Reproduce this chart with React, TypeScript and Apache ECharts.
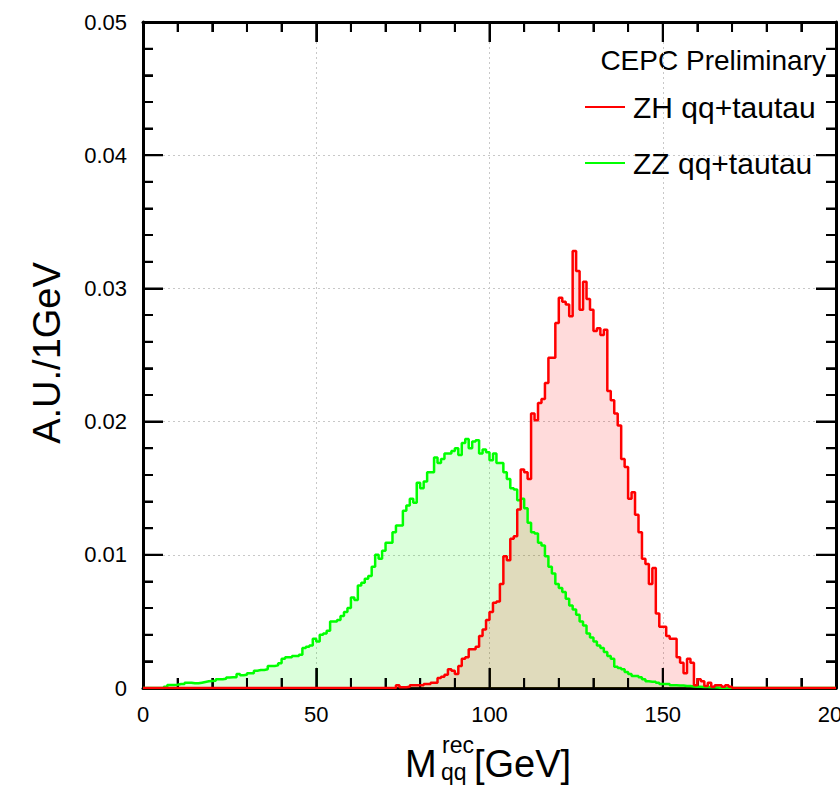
import React, { useEffect, useRef } from "react";
import * as echarts from "echarts";

// Bin lower edges are 0,1,2,...,199 GeV (1 GeV bins); values are A.U. per bin
const zzLabel = "ZZ qq+tautau";
const zhLabel = "ZH qq+tautau";

// ZZ qq+tautau (green), bins 0..199
const zzValues = [
  0, 0, 0, 0, 0, 0, 0.0001, 0.00023, 0.00023, 0.00025,
  0.0003, 0.0003, 0.0004, 0.0004, 0.00035, 0.00035, 0.0004, 0.00045, 0.0005, 0.00053,
  0.00055, 0.00065, 0.00065, 0.0007, 0.00078, 0.0008, 0.0008, 0.00105, 0.00095, 0.001,
  0.0011, 0.0011, 0.0013, 0.00135, 0.00135, 0.0014, 0.00165, 0.00165, 0.0017, 0.00185,
  0.0022, 0.0023, 0.0023, 0.0024, 0.0024, 0.0025, 0.003, 0.0031, 0.0032, 0.0037,
  0.0035, 0.004, 0.0041, 0.0043, 0.005, 0.005, 0.0051, 0.0054, 0.0057, 0.006,
  0.0068, 0.0066, 0.0077, 0.0079, 0.0082, 0.0084, 0.0091, 0.01, 0.0097, 0.0103,
  0.0109, 0.0109, 0.0117, 0.0122, 0.0122, 0.0133, 0.0137, 0.0142, 0.0139, 0.0154,
  0.015, 0.0155, 0.0162, 0.0162, 0.0173, 0.0169, 0.0172, 0.0176, 0.0176, 0.0178,
  0.018, 0.0175, 0.0184, 0.0187, 0.018, 0.0185, 0.0186, 0.0176, 0.0179, 0.0177,
  0.0171, 0.0176, 0.0169, 0.0169, 0.0162, 0.0157, 0.015, 0.0149, 0.0141, 0.0142,
  0.0135, 0.0124, 0.0117, 0.0116, 0.0109, 0.0107, 0.0099, 0.0091, 0.0086, 0.0078,
  0.0075, 0.0072, 0.0067, 0.0062, 0.0059, 0.0055, 0.005, 0.0047, 0.0041, 0.0038,
  0.0035, 0.0032, 0.003, 0.0027, 0.0024, 0.0022, 0.0016, 0.0015, 0.0014, 0.0012,
  0.00105, 0.0009, 0.0009, 0.0008, 0.00065, 0.0005, 0.00047, 0.00047, 0.0004, 0.0003,
  0.0003, 0.0003, 0.0002, 0.0002, 0.00018, 0.00018, 0.00015, 0.00015, 0.00012, 0.0001,
  0.0001, 0.00008, 0.00008, 0.00005, 0.00005, 0.00003, 0, 0, 0, 0,
  0, 0, 0, 0, 0, 0, 0, 0, 0, 0,
  0, 0, 0, 0, 0, 0, 0, 0, 0, 0,
  0, 0, 0, 0, 0, 0, 0, 0, 0, 0,
];

// ZH qq+tautau (red), bins 0..199
const zhValues = [
  0, 0, 0, 0, 0, 0, 0, 0, 0, 0,
  0, 0, 0, 0, 0, 0, 0, 0, 0, 0,
  0, 0, 0, 0, 0, 0, 0, 0, 0, 0,
  0, 0, 0, 0, 0, 0, 0, 0, 0, 0,
  0, 0, 0, 0, 0, 0, 0, 0, 0, 0,
  0, 0, 0, 0, 0, 0, 0, 0, 0, 0,
  0, 0, 0, 0, 0, 0, 0, 0, 0, 0,
  0, 0, 0, 0.0002, 0.00005, 0.00005, 0.0001, 0.0002, 0.0002, 0.0002,
  0.0002, 0.0003, 0.0003, 0.0004, 0.0004, 0.00075, 0.00085, 0.001, 0.0014, 0.0013,
  0.00105, 0.00165, 0.0022, 0.0023, 0.0029, 0.0029, 0.0031, 0.0039, 0.0044, 0.0051,
  0.0057, 0.0064, 0.0065, 0.0078, 0.0099, 0.0096, 0.0112, 0.0114, 0.0134, 0.0164,
  0.0162, 0.0157, 0.0206, 0.0201, 0.0214, 0.0217, 0.0229, 0.0248, 0.0248, 0.0274,
  0.0293, 0.029, 0.0288, 0.0279, 0.0328, 0.0313, 0.0284, 0.0305, 0.0292, 0.0284,
  0.0268, 0.027, 0.0265, 0.0269, 0.0223, 0.0216, 0.0206, 0.0197, 0.0172, 0.0166,
  0.0142, 0.0147, 0.013, 0.0117, 0.0097, 0.0093, 0.0078, 0.009, 0.0056, 0.0046,
  0.0046, 0.0039, 0.0037, 0.0037, 0.0023, 0.0019, 0.0011, 0.0022, 0.0019, 0.0002,
  0.00065, 0.0005, 0.00015, 0.0004, 0.0001, 0.0002, 0.0002, 0.0001, 0.0002, 0.0001,
  0, 0, 0, 0, 0, 0, 0, 0, 0, 0,
  0, 0, 0, 0, 0, 0, 0, 0, 0, 0,
  0, 0, 0, 0, 0, 0, 0, 0, 0, 0,
];

const xMin = 0;
const xMax = 200;
const xInterval = 50;
const xMinorStep = 10;
const yMin = 0;
const yMax = 0.05;
const yInterval = 0.01;
const yMinorCount = 25; // minor tick every 0.002

const FONT = "'Liberation Sans', Arial, Helvetica, sans-serif";

// layout (pixels)
const W = 840;
const H = 789;
const GRID = { left: 143, right: 4, top: 22, bottom: 101 };
const MAJOR_TICK_PX = 20;
const MINOR_TICK_PX = 10;

// histogram step points: [edge, value], closing at upper edge of last bin
function toSteps(values: number[]): [number, number][] {
  const pts: [number, number][] = values.map((v, i) => [i, v]);
  pts.push([values.length, values[values.length - 1]]);
  return pts;
}

// inward frame ticks on all four sides, as short segments separated by gaps
function buildTickPath(): (number | null)[][] {
  const plotW = W - GRID.left - GRID.right;
  const plotH = H - GRID.top - GRID.bottom;
  const dxPerPx = (xMax - xMin) / plotW;
  const dyPerPx = (yMax - yMin) / plotH;
  const pts: (number | null)[][] = [];
  for (let v = xMin; v <= xMax; v += xMinorStep) {
    const len = v % xInterval === 0 ? MAJOR_TICK_PX : MINOR_TICK_PX;
    pts.push([v, yMin], [v, yMin + len * dyPerPx], [v, null]);
    pts.push([v, yMax], [v, yMax - len * dyPerPx], [v, null]);
  }
  for (let k = 0; k <= yMinorCount; k++) {
    const w = (k * (yMax - yMin)) / yMinorCount;
    const len = k % 5 === 0 ? MAJOR_TICK_PX : MINOR_TICK_PX;
    pts.push([xMin, w], [xMin + len * dxPerPx, w], [xMin, null]);
    pts.push([xMax, w], [xMax - len * dxPerPx, w], [xMax, null]);
  }
  return pts;
}

function axisLine(onZeroAxisIndex: number) {
  return { show: true, onZero: true, onZeroAxisIndex, lineStyle: { color: "#000", width: 3 } };
}
function axisTick() {
  return { show: true, inside: true, length: MAJOR_TICK_PX, lineStyle: { color: "#000", width: 2 } };
}
function minorTick() {
  return { show: true, splitNumber: 5, length: MINOR_TICK_PX, lineStyle: { color: "#000", width: 2 } };
}

export default function App() {
  const ref = useRef<HTMLDivElement>(null);

  useEffect(() => {
    if (!ref.current) return;
    const chart = echarts.init(ref.current, undefined, { renderer: "svg" });

    const gridLine = { show: true, lineStyle: { color: "#c8c8c8", width: 1, type: [2, 3] as any } };

    chart.setOption({
      animation: false,
      backgroundColor: "#fff",
      grid: {
        ...GRID,
        containLabel: false,
        outerBounds: { left: -100, right: -100, top: -100, bottom: -100 },
      },
      xAxis: [
        {
          type: "value",
          min: xMin,
          max: xMax,
          interval: xInterval,
          position: "bottom",
          axisLine: axisLine(0),
          axisTick: axisTick(),
          minorTick: minorTick(),
          splitLine: gridLine,
          axisLabel: { fontSize: 22, color: "#000", margin: 15, fontFamily: FONT },
        },
        {
          type: "value",
          min: xMin,
          max: xMax,
          interval: xInterval,
          inverse: true,
          position: "top",
          axisLine: axisLine(1),
          axisTick: axisTick(),
          minorTick: minorTick(),
          splitLine: { show: false },
          axisLabel: { show: false },
        },
      ],
      yAxis: [
        {
          type: "value",
          min: yMin,
          max: yMax,
          interval: yInterval,
          position: "left",
          axisLine: axisLine(0),
          axisTick: axisTick(),
          minorTick: minorTick(),
          splitLine: gridLine,
          axisLabel: {
            fontSize: 22,
            color: "#000",
            margin: 16,
            fontFamily: FONT,
            formatter: (v: number) => (v === 0 ? "0" : v.toFixed(2)),
          },
        },
        {
          type: "value",
          min: yMin,
          max: yMax,
          interval: yInterval,
          inverse: true,
          position: "right",
          axisLine: axisLine(1),
          axisTick: axisTick(),
          minorTick: minorTick(),
          splitLine: { show: false },
          axisLabel: { show: false },
        },
      ],
      legend: {
        orient: "vertical",
        left: 580,
        top: 87,
        itemWidth: 40,
        itemHeight: 2,
        itemGap: 26,
        icon: "rect",
        data: [zhLabel, zzLabel],
        textStyle: { fontSize: 30, color: "#000", fontFamily: FONT, lineHeight: 30, padding: [0, 0, 0, 3] },
      },
      graphic: [
        {
          type: "text",
          x: 826,
          y: 60,
          style: { text: "CEPC Preliminary", fontSize: 28, fontFamily: FONT, fill: "#000", align: "right", verticalAlign: "middle" },
        },
        {
          type: "text",
          x: 47,
          y: 353,
          rotation: Math.PI / 2,
          style: { text: "A.U./1GeV", fontSize: 38, fontFamily: FONT, fill: "#000", align: "center", verticalAlign: "middle" },
        },
        {
          type: "text",
          x: 405,
          y: 764,
          style: { text: "M", fontSize: 38, fontFamily: FONT, fill: "#000", align: "left", verticalAlign: "middle" },
        },
        {
          type: "text",
          x: 442,
          y: 745,
          style: { text: "rec", fontSize: 23, fontFamily: FONT, fill: "#000", align: "left", verticalAlign: "middle" },
        },
        {
          type: "text",
          x: 441,
          y: 772,
          style: { text: "qq", fontSize: 23, fontFamily: FONT, fill: "#000", align: "left", verticalAlign: "middle" },
        },
        {
          type: "text",
          x: 474,
          y: 764,
          style: { text: "[GeV]", fontSize: 38, fontFamily: FONT, fill: "#000", align: "left", verticalAlign: "middle" },
        },
      ],
      series: [
        {
          name: "frame ticks",
          type: "line",
          xAxisIndex: 0,
          yAxisIndex: 0,
          data: buildTickPath(),
          connectNulls: false,
          showSymbol: false,
          symbol: "none",
          silent: true,
          clip: false,
          lineStyle: { color: "#000", width: 2 },
          itemStyle: { color: "#000" },
        },
        {
          name: zzLabel,
          type: "line",
          step: "end",
          xAxisIndex: 0,
          yAxisIndex: 0,
          data: toSteps(zzValues),
          showSymbol: false,
          symbol: "none",
          itemStyle: { color: "#00ff00" },
          lineStyle: { color: "#00ff00", width: 2.5 },
          areaStyle: { color: "rgba(0,255,0,0.2)", origin: "start" },
        },
        {
          name: zhLabel,
          type: "line",
          step: "end",
          xAxisIndex: 0,
          yAxisIndex: 0,
          data: toSteps(zhValues),
          showSymbol: false,
          symbol: "none",
          itemStyle: { color: "#ff0000" },
          lineStyle: { color: "#ff0000", width: 2.5 },
          areaStyle: { color: "rgba(255,0,0,0.2)", origin: "start" },
        },
      ],
    });

    return () => chart.dispose();
  }, []);

  return (
    <div
      ref={ref}
      style={{ position: "absolute", left: 0, top: 0, width: W, height: H }}
    />
  );
}
